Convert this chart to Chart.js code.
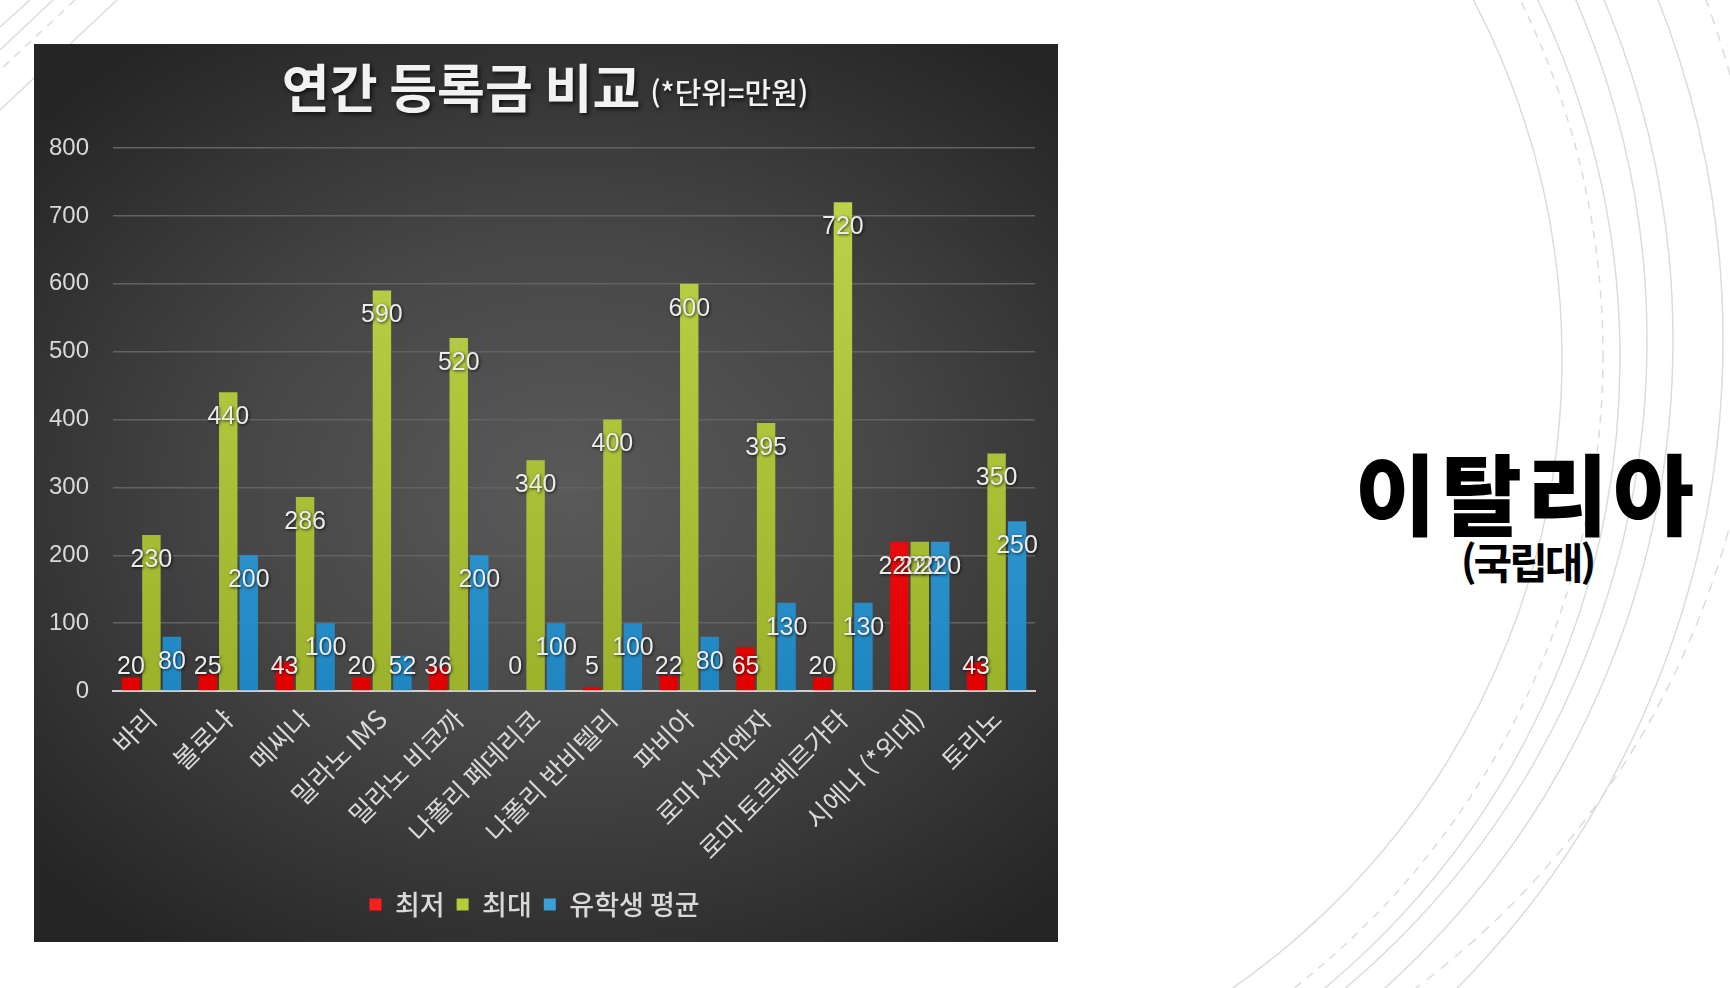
<!DOCTYPE html>
<html lang="ko">
<head>
<meta charset="UTF-8">
<title>연간 등록금 비교</title>
<script src="https://cdn.jsdelivr.net/npm/chart.js"></script>
<style>
    html, body { margin: 0; padding: 0; }
    body { width: 1730px; height: 988px; background: #fff; position: relative; overflow: hidden; }
    #deco { position: absolute; left: 0; top: 0; }
    #panel {
        position: absolute; left: 34px; top: 44px; width: 1024px; height: 898px;
        background: radial-gradient(ellipse 70% 62% at 52% 50%, #5a5a5a 0%, #474747 45%, #2e2e2e 85%, #252525 100%);
    }
    .country {
        position: absolute; left: 1327px; width: 400px; text-align: center; color: #000;
        font-family: 'Noto Sans CJK KR', sans-serif; font-weight: 900; line-height: 1;
    }
    #big { top: 446px; font-size: 88px; letter-spacing: 5px; }
    #small { top: 540px; font-size: 42px; letter-spacing: -3px; font-weight: 700; }
</style>
</head>
<body>

<!-- 배경 장식 곡선 -->
<svg id="deco" width="1730" height="988" fill="none" stroke="#dcdcdc" stroke-width="1.5">
    <defs>
        <clipPath id="rightSide"><rect x="1075" y="0" width="700" height="988" /></clipPath>
    </defs>
    <g clip-path="url(#rightSide)">
        <circle cx="795" cy="358" r="767" />
        <circle cx="800" cy="355" r="803" stroke-dasharray="8 7" />
        <circle cx="800" cy="358" r="820" />
        <circle cx="800" cy="340" r="847" />
        <circle cx="800" cy="340" r="873" />
        <circle cx="800" cy="340" r="923" />
        <circle cx="900" cy="300" r="860" stroke-dasharray="10 8" />
    </g>
    <line x1="30" y1="0" x2="0" y2="27" />
    <line x1="53" y1="0" x2="0" y2="50" />
    <line x1="75" y1="0" x2="0" y2="70" stroke-dasharray="8 7" />
    <line x1="117" y1="0" x2="0" y2="110" />
</svg>

<div id="panel">
    <canvas id="canvasTuition"></canvas>
</div>

<div class="country" id="big">이탈리아</div>
<div class="country" id="small">(국립대)</div>

<script>
    // 학교 목록
    const schools = ['바리', '볼로냐', '메씨나', '밀라노 IMS', '밀라노 비코까', '나폴리 페데리코',
        '나폴리 반비텔리', '파비아', '로마 사피엔자', '로마 토르베르가타', '시에나 (*외대)', '토리노'];

    // 연간 등록금 (만원)
    const minFee = [20, 25, 43, 20, 36, 0, 5, 22, 65, 20, 220, 43];
    const maxFee = [230, 440, 286, 590, 520, 340, 400, 600, 395, 720, 220, 350];
    const intlAvg = [80, 200, 100, 52, 200, 100, 100, 80, 130, 130, 220, 250];

    const yTicks = [0, 100, 200, 300, 400, 500, 600, 700, 800];

    const KR = "'Noto Sans CJK KR', sans-serif";
    const NUM = "'Liberation Sans', Arial, sans-serif";

    // 막대 세로 그라데이션
    function barGradient(top, bottom) {
        return (context) => {
            const area = context.chart.chartArea;
            if (!area) return bottom;
            const g = context.chart.ctx.createLinearGradient(0, area.top, 0, area.bottom);
            g.addColorStop(0, top);
            g.addColorStop(1, bottom);
            return g;
        };
    }

    // 제목: 큰 글씨 + 작은 단위 표기
    const titlePlugin = {
        id: 'twoSizeTitle',
        afterDraw(chart) {
            const ctx = chart.ctx;
            const main = '연간 등록금 비교';
            const sub = '(*단위=만원)';
            ctx.save();
            ctx.font = 'bold 52px ' + KR;
            const w1 = ctx.measureText(main).width;
            ctx.font = '500 29px ' + KR;
            const w2 = ctx.measureText(sub).width;
            const gap = 10;
            let x = 511 - (w1 + gap + w2) / 2;
            ctx.fillStyle = '#f2f2f2';
            ctx.textBaseline = 'alphabetic';
            ctx.shadowColor = 'rgba(0,0,0,0.7)';
            ctx.shadowBlur = 4;
            ctx.shadowOffsetX = 2;
            ctx.shadowOffsetY = 2;
            ctx.font = 'bold 52px ' + KR;
            ctx.fillText(main, x, 64);
            ctx.font = '500 29px ' + KR;
            ctx.fillText(sub, x + w1 + gap, 60);
            ctx.restore();
        }
    };

    // 데이터 레이블: 막대 안쪽 끝, 짧은 막대는 축 위에 고정
    const valuePlugin = {
        id: 'valueLabels',
        afterDatasetsDraw(chart) {
            const ctx = chart.ctx;
            const base = chart.scales.y.getPixelForValue(0);
            ctx.save();
            ctx.font = '25px ' + NUM;
            ctx.textAlign = 'center';
            ctx.textBaseline = 'middle';
            ctx.fillStyle = '#ececec';
            ctx.shadowColor = 'rgba(0,0,0,0.75)';
            ctx.shadowBlur = 3;
            ctx.shadowOffsetX = 1;
            ctx.shadowOffsetY = 1;
            chart.data.datasets.forEach((ds, i) => {
                chart.getDatasetMeta(i).data.forEach((bar, j) => {
                    const y = Math.min(bar.y + 25, base - 24);
                    ctx.fillText(String(ds.data[j]), bar.x, y);
                });
            });
            ctx.restore();
        }
    };

    const dataTuition = {
        labels: schools,
        datasets: [
            {
                label: '최저',
                data: minFee,
                backgroundColor: barGradient('#ff2a2a', '#e00000'),
            },
            {
                label: '최대',
                data: maxFee,
                backgroundColor: barGradient('#bfd64c', '#9bb22a'),
            },
            {
                label: '유학생 평균',
                data: intlAvg,
                backgroundColor: barGradient('#4db3e6', '#1f86c2'),
            }
        ]
    };

    const legendColors = ['#ff1e1e', '#b2cc3a', '#3aa0d8'];

    const configTuition = {
        type: 'bar',
        data: dataTuition,
        plugins: [titlePlugin, valuePlugin],
        options: {
            responsive: true,
            maintainAspectRatio: false,
            animation: false,
            categoryPercentage: 0.8,
            barPercentage: 0.9,
            layout: {
                padding: { top: 104, right: 23, bottom: 14, left: 0 }
            },
            plugins: {
                title: { display: false },
                tooltip: { enabled: false },
                legend: {
                    position: 'bottom',
                    labels: {
                        color: '#d9d9d9',
                        font: { family: KR, size: 27, weight: '500' },
                        boxWidth: 12,
                        boxHeight: 12,
                        padding: 12,
                        generateLabels: (chart) => chart.data.datasets.map((ds, i) => ({
                            text: ds.label,
                            fillStyle: legendColors[i],
                            strokeStyle: legendColors[i],
                            lineWidth: 0,
                            fontColor: '#d9d9d9',
                            datasetIndex: i
                        }))
                    }
                }
            },
            scales: {
                x: {
                    grid: { display: false },
                    border: { display: true, color: '#cfcfcf', width: 2 },
                    ticks: {
                        color: '#d9d9d9',
                        minRotation: 45,
                        maxRotation: 45,
                        padding: 4,
                        font: { family: KR, size: 26 }
                    },
                    afterFit: (scale) => { scale.height = 188; }
                },
                y: {
                    min: 0,
                    max: 800,
                    afterBuildTicks: (scale) => { scale.ticks = yTicks.map(v => ({ value: v })); },
                    grid: { color: '#626262', lineWidth: 1.5, drawTicks: false },
                    border: { display: false },
                    ticks: {
                        color: '#d9d9d9',
                        padding: 24,
                        font: { family: NUM, size: 24 }
                    },
                    afterFit: (scale) => { scale.width = 79; }
                }
            }
        }
    };

    const GraficoTuition = new Chart(
        document.getElementById('canvasTuition'),
        configTuition
    );
</script>
</body>
</html>
